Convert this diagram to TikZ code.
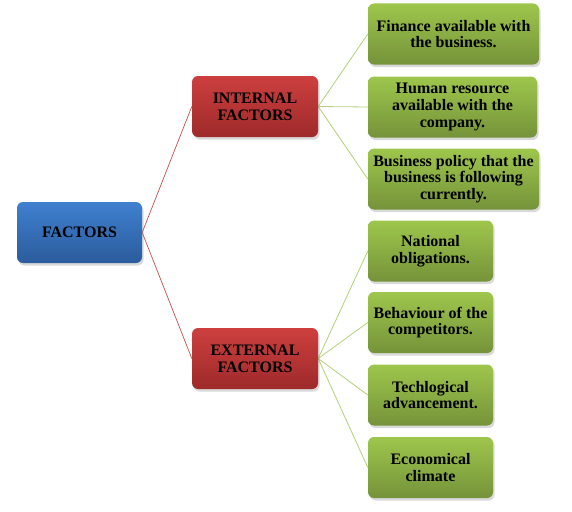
\documentclass[tikz,border=0pt]{standalone}
\usepackage{fontspec}
\setmainfont{Liberation Serif}
\usetikzlibrary{shadows,backgrounds}
\definecolor{bluetop}{HTML}{3F80CF}
\definecolor{bluebot}{HTML}{2B5C9C}
\definecolor{redtop}{HTML}{CD3F3F}
\definecolor{redbot}{HTML}{9E2A2A}
\definecolor{greentop}{HTML}{9EC64C}
\definecolor{greenbot}{HTML}{75933A}
\definecolor{redline}{HTML}{C0504D}
\definecolor{greenline}{HTML}{B3CF7A}
\tikzset{
  box/.style={rounded corners=6pt, inner sep=2pt, align=center,
    font=\fontsize{16}{16.8}\selectfont\bfseries,
    drop shadow={shadow xshift=1.5pt, shadow yshift=-2.5pt, opacity=0.3}},
  bluebox/.style={box, top color=bluetop, bottom color=bluebot, minimum width=125pt, minimum height=61pt},
  redbox/.style={box, top color=redtop, bottom color=redbot, minimum width=126pt, minimum height=61pt},
  greenbox/.style={box, top color=greentop, bottom color=greenbot, minimum height=61pt},
  wide/.style={greenbox, minimum width=171pt},
  narrow/.style={greenbox, minimum width=125pt},
  redlink/.style={draw=redline, line width=0.7pt},
  greenlink/.style={draw=greenline, line width=0.8pt}
}
\begin{document}
\begin{tikzpicture}[x=1pt,y=-1pt]
\useasboundingbox (0,0) rectangle (572,511);
\node[bluebox] (f) at (79.5,232.5) {FACTORS};
\node[redbox] (i) at (255,106.5) {INTERNAL\\FACTORS};
\node[redbox] (e) at (255,358.5) {EXTERNAL\\FACTORS};
\node[wide] (g1) at (453.5,34) {Finance available  with\\the business.};
\node[wide, minimum width=169pt] (g2) at (452.5,107) {Human resource\\available with the\\company.};
\node[wide] (g3) at (453.5,179) {Business policy that the\\business is following\\currently.};
\node[narrow] (h1) at (430.5,251) {National\\obligations.};
\node[narrow] (h2) at (430.5,322.5) {Behaviour of the\\competitors.};
\node[narrow] (h3) at (430.5,395) {Techlogical\\advancement.};
\node[narrow] (h4) at (430.5,467.5) {Economical\\climate};
\begin{scope}[on background layer]
\draw[redlink] (f.east) -- (i.west);
\draw[redlink] (f.east) -- (e.west);
\foreach \g in {g1,g2,g3} \draw[greenlink] (i.east) -- (\g.west);
\foreach \g in {h1,h2,h3,h4} \draw[greenlink] (e.east) -- (\g.west);
\end{scope}
\end{tikzpicture}
\end{document}
